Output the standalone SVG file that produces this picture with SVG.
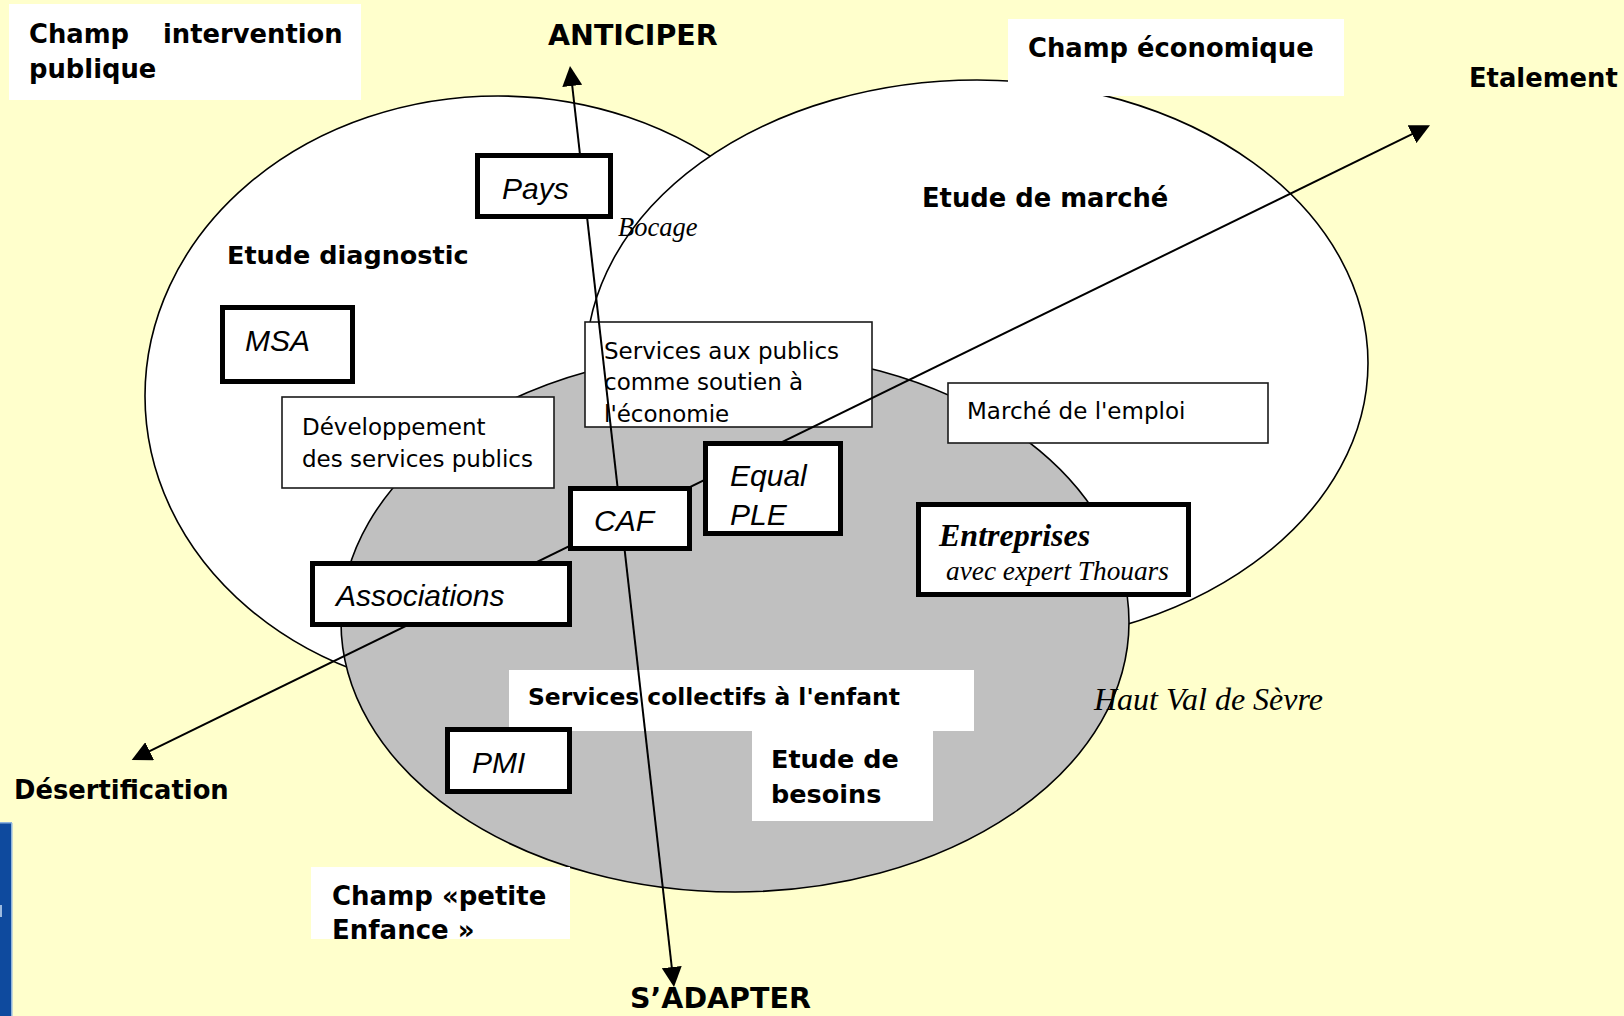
<svg xmlns="http://www.w3.org/2000/svg" width="1624" height="1016" viewBox="0 0 1624 1016">
<defs>
<marker id="arr" viewBox="0 0 20 20" markerWidth="20" markerHeight="20" refX="16" refY="10" markerUnits="userSpaceOnUse" orient="auto-start-reverse">
<path d="M0,0 L20,10 L0,20 z" fill="#000"/>
</marker>
</defs>
<style>
.b{font-family:"DejaVu Sans",sans-serif;font-weight:bold;fill:#000}
.r{font-family:"DejaVu Sans",sans-serif;font-size:23px;fill:#000}
.i{font-family:"Liberation Sans",Arial,sans-serif;font-style:italic;font-size:30px;fill:#000}
.s{font-family:"Liberation Serif","Times New Roman",serif;font-style:italic;fill:#000}
.ell{stroke:#000;stroke-width:1.6}
.thin{fill:#fff;stroke:#1a1a1a;stroke-width:1.6}
.thick{fill:#fff;stroke:#000;stroke-width:5}
.wb{fill:#fff}
.con{stroke:#000;stroke-width:2;fill:none}
</style>
<rect x="0" y="0" width="1624" height="1016" fill="#FFFFCC"/>
<g id="bluebar">
<rect x="0" y="823" width="12" height="193" fill="#0E4A9E"/>
<rect x="11" y="823" width="1.5" height="193" fill="#8FB4DD"/>
<rect x="0" y="822" width="12" height="1.5" fill="#8FB4DD"/>
<rect x="0" y="905" width="2" height="12" fill="#9DBBE0"/>
</g>
<g id="champ-intervention">
<rect class="wb" x="9" y="4" width="352" height="96"/>
<text class="b" font-size="25.8" y="43"><tspan x="29">Champ</tspan><tspan x="163">intervention</tspan></text>
<text class="b" font-size="25.8" x="29" y="78">publique</text>
</g>
<g id="ellipses">
<ellipse id="ellipse-public" class="ell" cx="498" cy="396" rx="353" ry="300" fill="#fff"/>
<ellipse id="ellipse-economique" class="ell" cx="977" cy="363" rx="391" ry="283" fill="#fff"/>
<ellipse id="ellipse-enfance" class="ell" cx="735" cy="622" rx="394" ry="270" fill="#C0C0C0"/>
</g>
<g id="champ-economique">
<rect class="wb" x="1008" y="19" width="336" height="77"/>
<text class="b" font-size="25.8" x="1028" y="57">Champ économique</text>
</g>
<g id="developpement">
<rect class="thin" x="282" y="397" width="272" height="91"/>
<text class="r" x="302" y="435">Développement</text>
<text class="r" x="302" y="467">des services publics</text>
</g>
<g id="services-publics">
<rect class="thin" x="585" y="322" width="287" height="105"/>
<text class="r" x="604" y="359">Services aux publics</text>
<text class="r" x="604" y="390">comme soutien à</text>
<text class="r" x="604" y="422">l'économie</text>
</g>
<g id="marche-emploi">
<rect class="thin" x="948" y="383" width="320" height="60"/>
<text class="r" x="967" y="419">Marché de l'emploi</text>
</g>
<g id="services-collectifs">
<rect class="wb" x="509" y="670" width="465" height="61"/>
<text class="b" font-size="23.4" x="528" y="705">Services collectifs à l'enfant</text>
</g>
<g id="etude-besoins">
<rect class="wb" x="752" y="730" width="181" height="91"/>
<text class="b" font-size="25.5" x="771" y="768">Etude de</text>
<text class="b" font-size="25.5" x="771" y="803">besoins</text>
</g>
<g id="champ-petite-enfance">
<rect class="wb" x="311" y="867" width="259" height="72"/>
<text class="b" font-size="26" x="332" y="905">Champ «petite</text>
<text class="b" font-size="26" x="332" y="939">Enfance »</text>
</g>
<g id="connectors">
<line class="con" x1="673.55" y1="983" x2="570.45" y2="70" marker-start="url(#arr)" marker-end="url(#arr)"/>
<line class="con" x1="135.3" y1="758.2" x2="1426.4" y2="127.1" marker-start="url(#arr)" marker-end="url(#arr)"/>
</g>
<g id="pays">
<rect class="thick" x="477.5" y="155.5" width="133" height="61"/>
<text class="i" x="502" y="199">Pays</text>
</g>
<g id="msa">
<rect class="thick" x="222.5" y="307.5" width="130" height="74"/>
<text class="i" x="245" y="351">MSA</text>
</g>
<g id="caf">
<rect class="thick" x="570.5" y="488.5" width="119" height="60"/>
<text class="i" x="594" y="531">CAF</text>
</g>
<g id="equal-ple">
<rect class="thick" x="705.5" y="443.5" width="135" height="90"/>
<text class="i" x="730" y="486">Equal</text>
<text class="i" x="730" y="525">PLE</text>
</g>
<g id="associations">
<rect class="thick" x="312.5" y="563.5" width="257" height="61"/>
<text class="i" x="336" y="606">Associations</text>
</g>
<g id="entreprises">
<rect class="thick" x="918.5" y="504.5" width="270" height="90"/>
<text class="s" font-weight="bold" font-size="32" x="939" y="546">Entreprises</text>
<text class="s" font-size="27.3" x="946" y="580">avec expert Thouars</text>
</g>
<g id="pmi">
<rect class="thick" x="447.5" y="729.5" width="122" height="62"/>
<text class="i" x="472" y="773">PMI</text>
</g>
<g id="labels">
<text class="b" font-size="28.5" x="548" y="45">ANTICIPER</text>
<text class="b" font-size="28.5" x="630" y="1008">S’ADAPTER</text>
<text class="b" font-size="25.8" x="1469" y="87">Etalement</text>
<text class="b" font-size="25.8" x="14" y="799">Désertification</text>
<text class="b" font-size="25.8" x="922" y="207">Etude de marché</text>
<text class="b" font-size="25.5" x="227" y="264">Etude diagnostic</text>
<text class="s" font-size="26.5" x="618" y="236">Bocage</text>
<text class="s" font-size="32" x="1094" y="710">Haut Val de Sèvre</text>
</g>
</svg>
